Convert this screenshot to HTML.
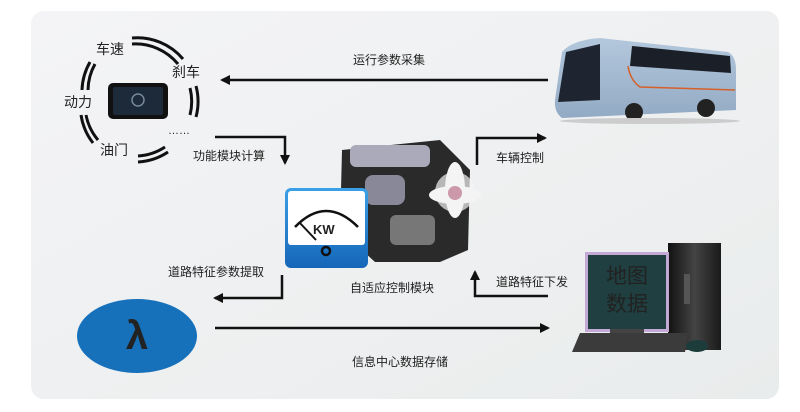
<!DOCTYPE html>
<html><head><meta charset="utf-8"><style>
body{margin:0;width:800px;height:412px;overflow:hidden;background:#fff}
svg{display:block}
text{font-family:"Liberation Sans","Noto Sans CJK SC",sans-serif;fill:#222}
</style></head><body>
<svg width="800" height="412" viewBox="0 0 800 412">
<defs>
<linearGradient id="bg" x1="0" y1="0" x2="1" y2="1"><stop offset="0" stop-color="#f4f4f6"/><stop offset="1" stop-color="#e9ecec"/></linearGradient>
<linearGradient id="blue" x1="0" y1="0" x2="0" y2="1"><stop offset="0" stop-color="#3aa0e8"/><stop offset="1" stop-color="#1566b8"/></linearGradient>
<linearGradient id="busg" x1="0" y1="0" x2="0" y2="1"><stop offset="0" stop-color="#b3c8dc"/><stop offset="1" stop-color="#93aac4"/></linearGradient>
<linearGradient id="tower" x1="0" y1="0" x2="1" y2="0"><stop offset="0" stop-color="#111"/><stop offset=".5" stop-color="#444"/><stop offset="1" stop-color="#1a1a1a"/></linearGradient>
<marker id="ah" markerWidth="10" markerHeight="10" refX="8" refY="5" orient="auto" markerUnits="userSpaceOnUse"><path d="M0,0 L10,5 L0,10 Z" fill="#111"/></marker>
</defs>
<rect x="0" y="0" width="800" height="412" fill="#fff"/>
<rect x="30" y="10" width="750" height="390" rx="14" fill="url(#bg)" stroke="#fff" stroke-width="2"/>

<!-- rings -->
<g fill="none" stroke="#111" stroke-width="3">
<path d="M132,44 A55,55 0 0 1 178,64"/><path d="M132,38 A60,60 0 0 1 183,59"/>
<path d="M190,88 A55,55 0 0 1 190,115"/><path d="M196,86 A60,60 0 0 1 196,117"/>
<path d="M138,156 A55,55 0 0 0 165,147"/><path d="M138,162 A60,60 0 0 0 168,152"/>
<path d="M95,64 A55,55 0 0 0 88,90"/><path d="M90,62 A60,60 0 0 0 82,90"/>
<path d="M86,115 A55,55 0 0 0 98,140"/><path d="M81,115 A60,60 0 0 0 93,143"/>
</g>
<rect x="108" y="83" width="60" height="36" rx="5" fill="#111"/>
<rect x="113" y="87" width="50" height="28" rx="2" fill="#1c2a3a"/>
<circle cx="138" cy="100" r="6" fill="none" stroke="#789" stroke-width="1.5"/>
<text x="96" y="54" font-size="14">车速</text>
<text x="172" y="77" font-size="14">刹车</text>
<text x="64" y="107" font-size="14">动力</text>
<text x="100" y="155" font-size="14">油门</text>
<text x="168" y="134" font-size="11">……</text>

<!-- arrows -->
<g stroke="#111" stroke-width="2.5" fill="none">
<line x1="548" y1="80" x2="222" y2="80" marker-end="url(#ah)"/>
<polyline points="215,137 285,137 285,163" marker-end="url(#ah)"/>
<polyline points="477,165 477,138 545,138" marker-end="url(#ah)"/>
<polyline points="282,275 282,298 215,298" marker-end="url(#ah)"/>
<polyline points="548,296 475,296 475,272" marker-end="url(#ah)"/>
<line x1="215" y1="328" x2="548" y2="328" marker-end="url(#ah)"/>
</g>
<text x="353" y="64" font-size="12">运行参数采集</text>
<text x="193" y="160" font-size="12">功能模块计算</text>
<text x="496" y="162" font-size="12">车辆控制</text>
<text x="168" y="276" font-size="12">道路特征参数提取</text>
<text x="350" y="292" font-size="12">自适应控制模块</text>
<text x="496" y="286" font-size="12">道路特征下发</text>
<text x="352" y="366" font-size="12">信息中心数据存储</text>

<!-- engine -->
<g>
<path d="M342,150 L440,140 L470,170 L468,250 L440,262 L375,262 L340,230 Z" fill="#2a2a2a"/>
<rect x="350" y="145" width="80" height="22" rx="6" fill="#aab"/>
<rect x="365" y="175" width="40" height="30" rx="8" fill="#889"/>
<rect x="390" y="215" width="45" height="30" rx="6" fill="#777"/>
<g fill="#f4f4f4"><ellipse cx="455" cy="190" rx="10" ry="28"/><ellipse cx="455" cy="195" rx="26" ry="9"/><ellipse cx="455" cy="192" rx="20" ry="20" transform="rotate(45 455 192)" opacity=".7"/></g>
<circle cx="455" cy="193" r="7" fill="#c9a"/>
</g>
<!-- KW box -->
<rect x="285" y="188" width="83" height="80" rx="6" fill="url(#blue)"/>
<rect x="288" y="191" width="77" height="54" rx="3" fill="#fff"/>
<path d="M295,227 Q326,195 358,227" fill="none" stroke="#111" stroke-width="2.5"/>
<line x1="299" y1="222" x2="316" y2="240" stroke="#111" stroke-width="2"/>
<text x="313" y="234" font-size="13" font-weight="bold" fill="#111">KW</text>
<circle cx="326" cy="251" r="4" fill="none" stroke="#111" stroke-width="2.5"/>

<!-- bus -->
<g>
<path d="M562,52 Q572,40 600,38 L728,52 Q736,56 736,70 L736,110 L562,118 Q554,112 555,100 Z" fill="url(#busg)"/>
<path d="M566,52 L600,44 L600,100 L558,102 Z" fill="#1e2530"/>
<path d="M632,46 L730,56 L731,73 L630,66 Z" fill="#1b2028"/>
<path d="M628,66 Q630,80 640,87 L735,90" fill="none" stroke="#d5602a" stroke-width="1.5"/>
<circle cx="634" cy="112" r="9" fill="#222"/><circle cx="706" cy="108" r="9" fill="#222"/>
<ellipse cx="650" cy="121" rx="90" ry="3" fill="#ccc"/>
</g>

<!-- lambda ellipse -->
<ellipse cx="137" cy="336" rx="60" ry="37" fill="#1670ba"/>
<text x="137" y="349" font-size="40" font-weight="bold" fill="#fff" text-anchor="middle">λ</text>

<!-- computer -->
<rect x="668" y="243" width="53" height="107" fill="url(#tower)"/>
<rect x="684" y="274" width="6" height="30" fill="#555"/>
<rect x="585" y="252" width="84" height="80" fill="#c4a9d6"/>
<rect x="588" y="255" width="78" height="74" fill="#1f3f40"/>
<text x="627" y="283" font-size="21" fill="#fff" text-anchor="middle">地图</text>
<text x="627" y="311" font-size="21" fill="#fff" text-anchor="middle">数据</text>
<rect x="610" y="329" width="34" height="8" fill="#444"/>
<path d="M580,333 L688,333 L685,352 L572,352 Z" fill="#3b3b3b"/>
<ellipse cx="697" cy="346" rx="11" ry="6" fill="#1c3c3c"/>
</svg>
</body></html>
